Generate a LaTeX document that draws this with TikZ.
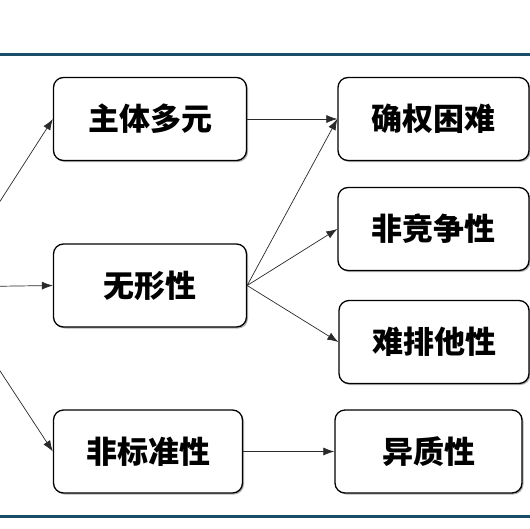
\documentclass[tikz,border=0pt]{standalone}
\usepackage{fontspec}
\newfontfamily\cjk{Noto Sans CJK SC}
\usetikzlibrary{positioning, arrows.meta, shadows}
\definecolor{rulebl}{HTML}{1B4C68}
\definecolor{linegr}{HTML}{2A2A2A}

\begin{document}
\begin{tikzpicture}[x=1pt, y=-1pt,
    box/.style={draw=black, line width=1.3pt, rounded corners=10pt, fill=white,
                minimum width=193pt, minimum height=83pt, inner sep=0pt,
                font=\cjk\bfseries\fontsize{31}{35}\selectfont,
                drop shadow={shadow xshift=1.5pt, shadow yshift=-1.5pt, fill=black, opacity=0.3}},
    link/.style={draw=linegr, line width=0.7pt, -{Latex[length=11pt, width=8pt]}},
    rule/.style={draw=rulebl, line width=3pt}]
    \useasboundingbox (0,0) rectangle (530,528);
    \clip (0,0) rectangle (530,528);
    \fill[white] (0,0) rectangle (530,528);
    \draw[rule] (0,54.5) -- (530,54.5);
    \draw[rule] (0,516) -- (530,516);
    % left column
    \node[box] (ztdy) at (150,119) {主体多元};
    \node[box] (wxx)  at (150,285.5) {无形性};
    \node[box, minimum width=189pt] (fbzx) at (148,451.5) {非标准性};
    % right column
    \node[box, minimum width=191pt] (qqkn) at (433.5,119) {确权困难};
    \node[box, minimum width=191pt] (fjzx) at (433.5,229) {非竞争性};
    \node[box, minimum width=190pt] (npt)  at (434,342) {难排他性};
    \node[box, minimum width=187pt] (yzx)  at (428.5,451.5) {异质性};
    % connectors
    \coordinate (src) at (-55,287);
    \draw[link] (src) -- (ztdy.west);
    \draw[link] (src) -- (wxx.west);
    \draw[link] (src) -- (fbzx.west);
    \draw[link] (ztdy.east) -- (qqkn.west);
    \draw[link] (wxx.east) -- (qqkn.west);
    \draw[link] (wxx.east) -- (fjzx.west);
    \draw[link] (wxx.east) -- (npt.west);
    \draw[link] (fbzx.east) -- (yzx.west);
\end{tikzpicture}
\end{document}
